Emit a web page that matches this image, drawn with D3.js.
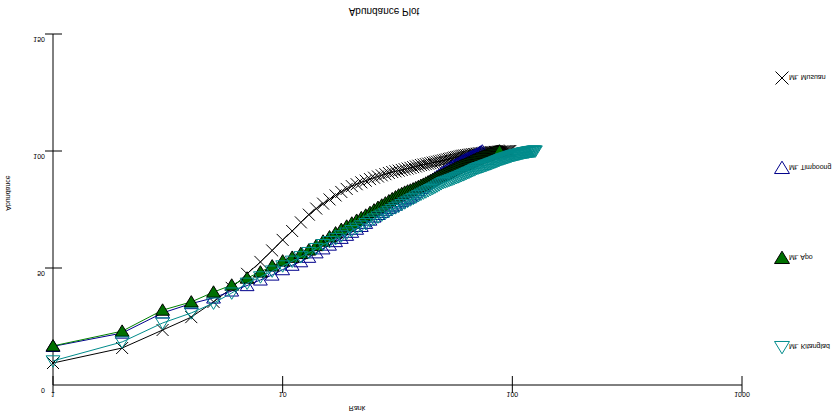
<!DOCTYPE html>
<html>
<head>
<meta charset="utf-8">
<script src="https://cdn.jsdelivr.net/npm/d3@7"></script>
<style>
	body { margin: 0; background: #fff; }
	text { font-family: "Liberation Sans", Arial, sans-serif; }
</style>
</head>
<body>
<div id="chart"></div>
<script>
// cumulative abundance (%) by species rank
var musuan = [9.4, 15.8, 23.5, 29, 35.5, 41.5, 47.5, 52.6, 57.5, 62,
	65.8, 69.5, 72.8, 75.4, 77.5, 79.3, 81, 82.5, 83.8, 85,
	85.8, 86.6, 87.3, 88, 88.6, 89.1, 89.6, 90.1, 90.6, 91,
	91.3, 91.6, 91.9, 92.2, 92.5, 92.8, 93.1, 93.4, 93.7, 94,
	94.2, 94.4, 94.6, 94.8, 95, 95.2, 95.4, 95.6, 95.8, 96,
	96.2, 96.4, 96.6, 96.8, 97, 97.2, 97.4, 97.5, 97.7, 97.9,
	98, 98.1, 98.2, 98.3, 98.4, 98.5, 98.6, 98.7, 98.7, 98.8,
	98.9, 99, 99, 99.1, 99.2, 99.2, 99.3, 99.3, 99.4, 99.4,
	99.5, 99.5, 99.5, 99.6, 99.6, 99.6, 99.7, 99.7, 99.7, 99.8,
	99.8, 99.8, 99.9, 99.9, 99.9, 99.9, 100, 100];
var timpoong = [16.5, 22.2, 30.8, 34.8, 37.2, 40.2, 42.5, 44.9, 47, 49.3,
	51.2, 52.7, 54.6, 56.5, 58.2, 59.8, 61.3, 62.7, 64, 65.3,
	66.6, 67.8, 69.1, 70.5, 71.8, 72.9, 73.8, 74.7, 75.5, 76.2,
	76.9, 77.8, 78.5, 79.2, 79.8, 80.4, 81.3, 82.2, 83.1, 84,
	84.8, 85.6, 86.4, 87.1, 87.8, 88.5, 89.1, 89.7, 90.3, 90.9,
	91.4, 91.9, 92.4, 92.9, 93.4, 93.8, 94.2, 94.6, 95, 95.4,
	95.8, 96.1, 96.5, 96.8, 97.1, 97.4, 97.7, 98, 98.3, 98.6,
	98.9, 99.3, 99.6, 100];
var apo = [16.7, 23, 32, 35.5, 39.7, 42.7, 45.7, 48.3, 50.9, 53,
	54.6, 56.2, 57.7, 59.6, 61.5, 63.3, 65, 66.5, 67.9, 69.2,
	70.4, 71.5, 72.6, 73.7, 74.8, 75.9, 76.9, 77.8, 78.7, 79.6,
	80.4, 81.2, 81.8, 82.4, 82.9, 83.3, 83.8, 84.3, 84.8, 85.3,
	85.8, 86.3, 86.8, 87.3, 87.8, 88.3, 88.8, 89.2, 89.6, 90,
	90.4, 90.8, 91.2, 91.6, 92, 92.4, 92.8, 93.1, 93.4, 93.7,
	94, 94.3, 94.6, 94.9, 95.2, 95.5, 95.8, 96.1, 96.4, 96.7,
	96.9, 97.1, 97.3, 97.5, 97.7, 97.9, 98.1, 98.3, 98.5, 98.7,
	98.9, 99.1, 99.3, 99.5, 99.7, 99.8, 99.9, 100];
var kitanglad = [10.3, 18.4, 26.5, 30.8, 35, 39.3, 43.5, 46.2, 48.7, 50.9,
	52.9, 54.8, 56.6, 58.3, 60, 61.3, 62.5, 63.7, 64.9, 66,
	67, 68, 69, 70, 70.9, 71.8, 72.6, 73.4, 74.2, 75,
	75.7, 76.4, 77.1, 77.8, 78.5, 79.1, 79.7, 80.3, 80.9, 81.5,
	82, 82.5, 83, 83.5, 84, 84.5, 85, 85.5, 86, 86.5,
	86.8, 87.1, 87.4, 87.7, 88, 88.3, 88.6, 88.9, 89.2, 89.5,
	89.8, 90.1, 90.4, 90.7, 91, 91.3, 91.6, 91.9, 92.2, 92.5,
	92.7, 92.9, 93.1, 93.3, 93.5, 93.7, 93.9, 94.1, 94.3, 94.5,
	94.7, 94.9, 95.1, 95.3, 95.5, 95.7, 95.9, 96.1, 96.3, 96.5,
	96.6, 96.8, 96.9, 97.1, 97.2, 97.4, 97.5, 97.7, 97.8, 98,
	98.1, 98.2, 98.3, 98.4, 98.5, 98.6, 98.7, 98.8, 98.9, 99,
	99.1, 99.2, 99.3, 99.3, 99.4, 99.5, 99.5, 99.6, 99.7, 99.7,
	99.8, 99.8, 99.9, 99.9, 100, 100];

var seriesNames = ["Mt. Musuan", "Mt. Timpoong", "Mt. Apo", "Mt. Kitanglad"];
var seriesValues = [musuan, timpoong, apo, kitanglad];
var xTicks = [1, 10, 100, 1000];
var yTicks = [0, 50, 100, 150];

var styles = [
	{ line: "#000", marker: "cross", stroke: "#000", fill: "none" },
	{ line: "#00008b", marker: "up", stroke: "#00008b", fill: "none" },
	{ line: "#008000", marker: "up", stroke: "#000", fill: "#007000" },
	{ line: "#008b8b", marker: "down", stroke: "#008b8b", fill: "none" }
];

var W = 837, H = 419;
var svg = d3.select("#chart").append("svg")
	.attr("width", W)
	.attr("height", H);

var x = d3.scaleLog().domain([1, 1000]).range([53, 742]);
var y = d3.scaleLinear().domain([0, 150]).range([385, 34]);

// flipped text, as in the original
var flipText = function(tx, ty, str, size, anchor) {
	return svg.append("text")
		.attr("transform", "translate(" + tx + "," + ty + ") scale(1,-1)")
		.attr("text-anchor", anchor || "middle")
		.attr("font-size", size + "px")
		.attr("fill", "#000")
		.text(str);
}

// axes
svg.append("line").attr("x1", x(1)).attr("x2", x(1000)).attr("y1", y(0)).attr("y2", y(0))
	.attr("stroke", "#000").attr("stroke-width", 1);
svg.append("line").attr("x1", x(1)).attr("x2", x(1)).attr("y1", y(0)).attr("y2", y(150))
	.attr("stroke", "#000").attr("stroke-width", 1);

xTicks.forEach(function(t) {
	svg.append("line").attr("x1", x(t)).attr("x2", x(t))
		.attr("y1", y(0) - 9).attr("y2", y(0) + 8)
		.attr("stroke", "#000");
	flipText(x(t), y(0) + 7, String(t), 7, "middle");
});
yTicks.forEach(function(t) {
	if (t > 0) {
		svg.append("line").attr("x1", x(1) - 8).attr("x2", x(1) + 9)
			.attr("y1", y(t)).attr("y2", y(t))
			.attr("stroke", "#000");
	}
	flipText(x(1) - 8, y(t) + 3, String(t), 7, "end");
});

flipText(384, 8, "Abundance Plot", 10, "middle");
flipText(357, 406, "Rank", 7, "middle");
svg.append("text")
	.attr("transform", "translate(6,193) rotate(-90) scale(1,-1)")
	.attr("text-anchor", "middle")
	.attr("font-size", "7px")
	.text("Abundance");

var markerPath = function(type, s) {
	if (type == "cross") {
		return "M" + (-s) + "," + (-s) + "L" + s + "," + s + "M" + (-s) + "," + s + "L" + s + "," + (-s);
	} else if (type == "up") {
		return "M0," + (-s * 1.05) + "L" + (s * 1.15) + "," + (s * 0.85) + "L" + (-s * 1.15) + "," + (s * 0.85) + "Z";
	} else {
		return "M0," + (s * 1.05) + "L" + (s * 1.15) + "," + (-s * 0.85) + "L" + (-s * 1.15) + "," + (-s * 0.85) + "Z";
	}
}

var lineFunction = d3.line()
	.x(function(d, i) { return x(i + 1); })
	.y(function(d) { return y(d); });

seriesValues.forEach(function(vals, k) {
	var st = styles[k];
	svg.append("path")
		.attr("d", lineFunction(vals))
		.attr("stroke", st.line)
		.attr("stroke-width", 1)
		.attr("fill", "none");
	svg.append("g").selectAll("path")
		.data(vals)
		.enter().append("path")
		.attr("transform", function(d, i) { return "translate(" + x(i + 1) + "," + y(d) + ")"; })
		.attr("d", markerPath(st.marker, 6))
		.attr("stroke", st.stroke)
		.attr("stroke-width", 1)
		.attr("fill", st.fill);
});

// legend
var legendY = [78, 168, 258, 347];
seriesNames.forEach(function(name, k) {
	var st = styles[k];
	svg.append("path")
		.attr("transform", "translate(782," + legendY[k] + ")")
		.attr("d", markerPath(st.marker, 6.5))
		.attr("stroke", st.stroke)
		.attr("stroke-width", 1)
		.attr("fill", st.fill);
	flipText(789, legendY[k] - 3, name, 7, "start");
});
</script>
</body>
</html>
